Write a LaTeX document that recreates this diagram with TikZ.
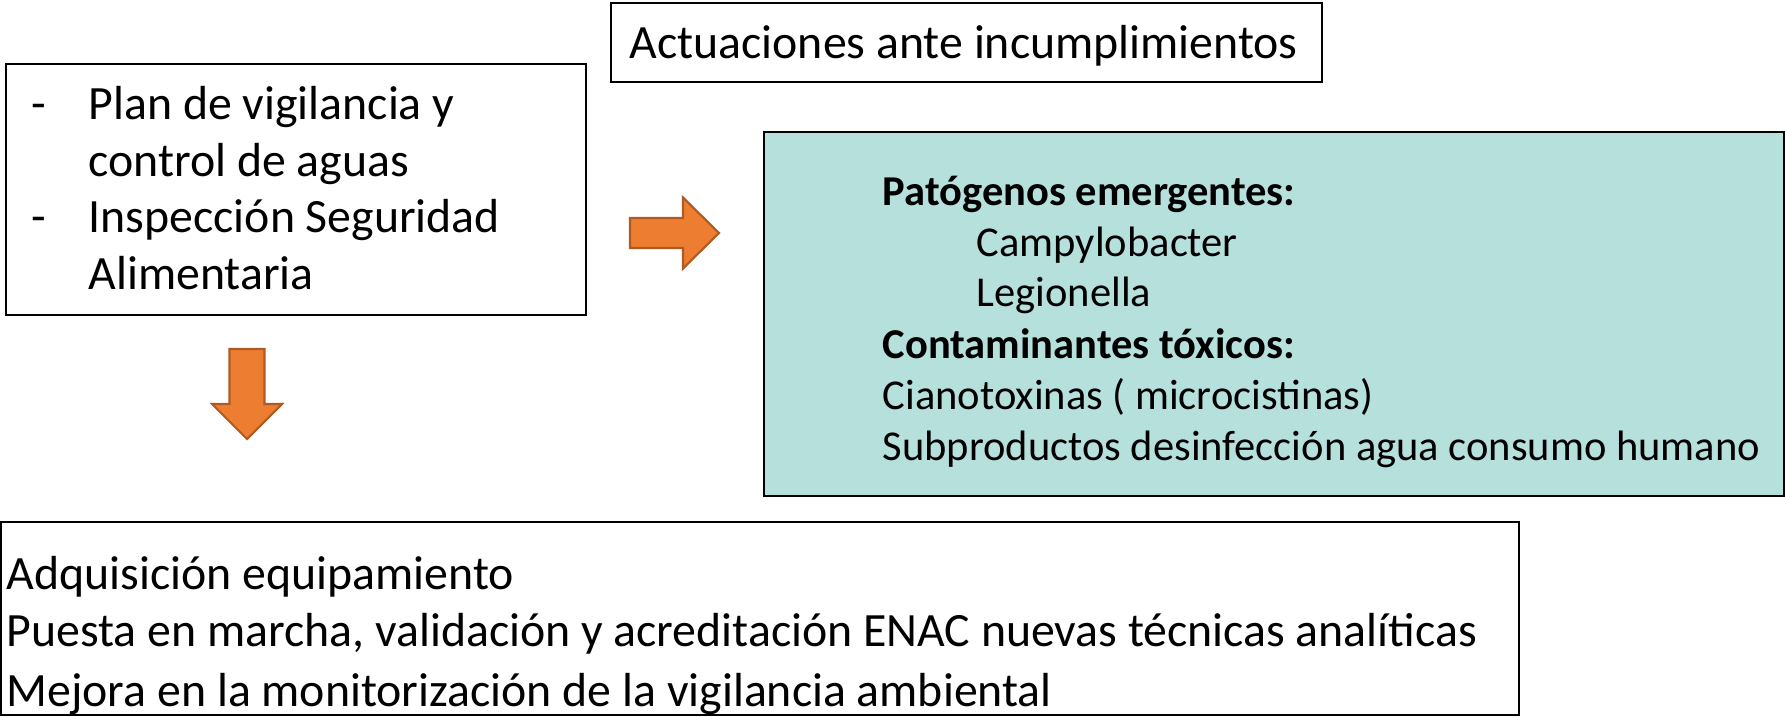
\documentclass[tikz,border=0pt]{standalone}
\usepackage{fontspec}
\setmainfont{Carlito}
\usepackage{xcolor}
\usepackage{tikz}
\definecolor{arrowfill}{HTML}{ED7D31}
\definecolor{arrowline}{HTML}{AE5A21}
\definecolor{tealfill}{HTML}{B6E0DC}

\begin{document}
\begin{tikzpicture}[
    box/.style={draw=black, line width=0.6pt, inner sep=0pt},
    txt/.style={anchor=base west, inner sep=0pt, font=\fontsize{13.6}{16}\selectfont},
    smalltxt/.style={txt, font=\fontsize{12.1}{14.5}\selectfont},
    blockarrow/.style={draw=arrowline, line width=0.6pt, fill=arrowfill}]
    \useasboundingbox (0,0) rectangle (17.85,-7.16);

    % Actuaciones (top)
    \node[box, minimum width=7.11cm, minimum height=0.79cm] (actuaciones) at (9.665,-0.425) {};
    \node[txt] (actuacionesTxt) at (6.29,-0.59) {Actuaciones ante incumplimientos};

    % Plan de vigilancia (left)
    \node[box, minimum width=5.80cm, minimum height=2.51cm] (plan) at (2.96,-1.895) {};
    \node[txt] (planDashA) at (0.31,-1.20) {-};
    \node[txt] (planA) at (0.88,-1.20) {Plan de vigilancia y};
    \node[txt] (planB) at (0.88,-1.765) {control de aguas};
    \node[txt] (planDashC) at (0.31,-2.325) {-};
    \node[txt] (planC) at (0.88,-2.325) {Inspección Seguridad};
    \node[txt] (planD) at (0.88,-2.89) {Alimentaria};

    % Patogenos / contaminantes (right)
    \node[box, fill=tealfill, minimum width=10.20cm, minimum height=3.64cm] (riesgos) at (12.74,-3.14) {};
    \node[smalltxt] (riesgosA) at (8.82,-2.05) {\textbf{Patógenos emergentes:}};
    \node[smalltxt] (riesgosB) at (9.76,-2.56) {Campylobacter};
    \node[smalltxt] (riesgosC) at (9.76,-3.06) {Legionella};
    \node[smalltxt] (riesgosD) at (8.82,-3.58) {\textbf{Contaminantes tóxicos:}};
    \node[smalltxt] (riesgosE) at (8.82,-4.09) {Cianotoxinas ( microcistinas)};
    \node[smalltxt] (riesgosF) at (8.82,-4.60) {Subproductos desinfección agua consumo humano};

    % Mejoras (bottom)
    \node[box, minimum width=15.18cm, minimum height=1.93cm] (mejoras) at (7.60,-6.185) {};
    \node[txt] (mejorasA) at (0.06,-5.89) {Adquisición equipamiento};
    \node[txt] (mejorasB) at (0.06,-6.46) {Puesta en marcha, validación y acreditación ENAC nuevas técnicas analíticas};
    \node[txt] (mejorasC) at (0.06,-7.06) {Mejora en la monitorización de la vigilancia ambiental};

    % block arrows
    \draw[blockarrow] (6.30,-2.18) -- (6.83,-2.18) -- (6.83,-1.975) -- (7.19,-2.33)
        -- (6.83,-2.685) -- (6.83,-2.48) -- (6.30,-2.48) -- cycle;
    \draw[blockarrow] (2.295,-3.49) -- (2.295,-4.04) -- (2.12,-4.04) -- (2.47,-4.39)
        -- (2.82,-4.04) -- (2.645,-4.04) -- (2.645,-3.49) -- cycle;
\end{tikzpicture}
\end{document}
